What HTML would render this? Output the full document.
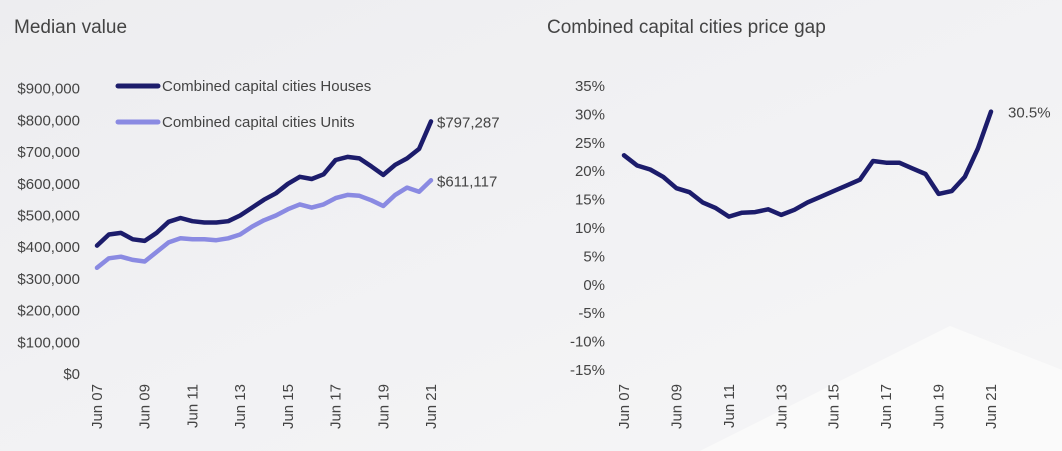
<!DOCTYPE html>
<html><head><meta charset="utf-8"><style>
body{margin:0;width:1062px;height:451px;overflow:hidden;font-family:"Liberation Sans",sans-serif;background:#f1f1f3}
svg{display:block}
text{fill:#444;font-family:"Liberation Sans",sans-serif}
</style></head><body>
<svg width="1062" height="451">
<defs><linearGradient id="bg" x1="0" y1="0" x2="1" y2="1"><stop offset="0" stop-color="#ededf0"/><stop offset="1" stop-color="#f6f6f7"/></linearGradient></defs>
<rect width="1062" height="451" fill="url(#bg)"/>
<polygon points="700,451 950,326 1062,370 1062,451" fill="#fafafa"/>
<text x="14" y="33" font-size="19" fill="#555">Median value</text>
<text x="547" y="33" font-size="19" fill="#555">Combined capital cities price gap</text>
<g id="left"></g><g id="right"></g>
<line x1="118" y1="86" x2="158" y2="86" stroke="#1c1c6b" stroke-width="5" stroke-linecap="round"/>
<text x="162" y="91" font-size="15">Combined capital cities Houses</text>
<line x1="118" y1="122" x2="158" y2="122" stroke="#8a8ae2" stroke-width="5" stroke-linecap="round"/>
<text x="162" y="127" font-size="15">Combined capital cities Units</text>
</svg>
<script>
const periods=["Jun07","Dec07","Jun08","Dec08","Jun09","Dec09","Jun10","Dec10","Jun11","Dec11","Jun12","Dec12","Jun13","Dec13","Jun14","Dec14","Jun15","Dec15","Jun16","Dec16","Jun17","Dec17","Jun18","Dec18","Jun19","Dec19","Jun20","Dec20","Jun21"];
const houses=[405,440,445,425,420,445,480,492,482,478,478,482,500,525,550,570,600,622,615,630,675,685,680,655,628,660,680,710,797];
const units=[335,365,370,360,355,385,415,428,425,425,422,428,440,465,485,500,520,535,525,535,555,565,562,548,530,565,588,575,611];
const gap=[22.8,21,20.3,19,17,16.3,14.5,13.5,12,12.7,12.8,13.3,12.3,13.2,14.5,15.5,16.5,17.5,18.5,21.8,21.5,21.5,20.5,19.5,16,16.5,19,24,30.5];
const leftTicks=["$0","$100,000","$200,000","$300,000","$400,000","$500,000","$600,000","$700,000","$800,000","$900,000"];
const rightTicks=["-15%","-10%","-5%","0%","5%","10%","15%","20%","25%","30%","35%"];
const xLabels=["Jun 07","Jun 09","Jun 11","Jun 13","Jun 15","Jun 17","Jun 19","Jun 21"];
const NS="http://www.w3.org/2000/svg";
function mk(tag,attrs,parent,txt){const e=document.createElementNS(NS,tag);for(const k in attrs)e.setAttribute(k,attrs[k]);if(txt!==undefined)e.textContent=txt;parent.appendChild(e);return e;}
const L=document.getElementById('left'),R=document.getElementById('right');
const lx=i=>97+(431-97)*i/(periods.length-1);
const ly=v=>374-(v/100)*31.7;
const rx=i=>624+(991-624)*i/(periods.length-1);
const ry=v=>(86+ (35-v)*284/50);
leftTicks.forEach((t,i)=>{const e=mk('text',{x:80,y:ly(i*100)+5,'font-size':15,'text-anchor':'end'},L,t);

});
rightTicks.forEach((t,i)=>{const e=mk('text',{x:605,y:ry(-15+i*5)+5,'font-size':15,'text-anchor':'end'},R,t);

});
xLabels.forEach((t,k)=>{
 const i=k*4;
 [[lx(i),L],[rx(i),R]].forEach(([x,p])=>{const e=mk('text',{x:0,y:0,'font-size':15,'text-anchor':'end',transform:`translate(${x+5},384) rotate(-90)`},p,t);
 
 });
});
function line(arr,fx,fy,col,p,name){const d=arr.map((v,i)=>(i?'L':'M')+fx(i).toFixed(1)+','+fy(v).toFixed(1)).join('');
const e=mk('path',{d:d,fill:'none',stroke:col,'stroke-width':4.5,'stroke-linejoin':'round','stroke-linecap':'round'},p);

}
line(units,lx,ly,'#8a8ae2',L,'units-line');
line(houses,lx,ly,'#1c1c6b',L,'houses-line');
line(gap,rx,ry,'#1c1c6b',R,'price-gap-line');
const n=periods.length-1;
let e=mk('text',{x:437,y:ly(houses[n])+6,'font-size':15},L,'$797,287');


e=mk('text',{x:437,y:ly(units[n])+6,'font-size':15},L,'$611,117');


e=mk('text',{x:1008,y:ry(gap[n])+6,'font-size':15},R,'30.5%');


</script>
</body></html>
